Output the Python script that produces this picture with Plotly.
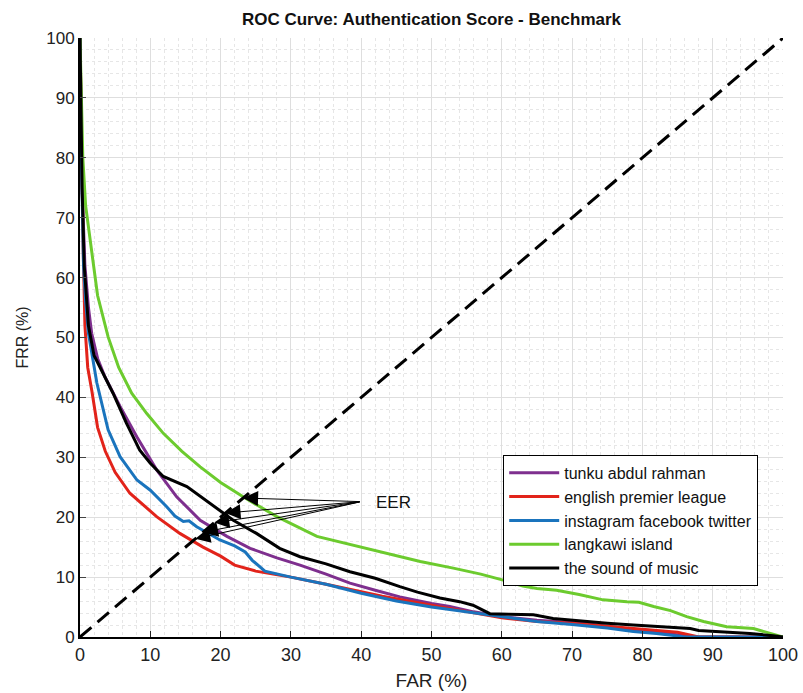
import plotly.graph_objects as go

# ---- data ----
series_names = ["tunku abdul rahman", "english premier league",
                "instagram facebook twitter", "langkawi island", "the sound of music"]
series_colors = ["#7E2F8E", "#E2231A", "#1A74BD", "#6CCB2E", "#000000"]

tunku_far = [0, 0.3, 0.7, 1.2, 1.66, 2.5, 3.56, 5.7, 8.1, 10.9, 13.75, 17.1, 20.9, 24.2, 28, 31.3, 35,
             38.4, 42, 45.5, 50, 52.6, 56, 60, 65, 71.6, 75, 78.7, 82, 85, 87.5, 100]
tunku_frr = [100, 75, 62, 55, 50.7, 46.5, 43.4, 38.5, 33.4, 27.9, 23.4, 19.5, 16.8, 14.8, 13.2, 12, 10.5,
             9, 7.8, 6.7, 5.6, 5.1, 4.2, 3.4, 2.8, 2.3, 1.8, 1.2, 0.8, 0.3, 0, 0]

epl_far = [0, 0.2, 0.45, 0.7, 1.1, 1.7, 2.5, 3.6, 5, 7.1, 9, 10.9, 14.2, 17.5, 20, 22, 25, 30, 35, 40,
           43, 50, 55, 60, 65, 70, 75, 80, 82, 85, 88, 100]
epl_frr = [100, 80, 65, 52, 45, 41, 35, 31, 27.5, 24, 22, 20.1, 17.3, 15, 13.5, 12, 11, 10, 8.8, 7.5,
           6.8, 5.3, 4.3, 3.2, 2.6, 2.3, 1.8, 1.3, 1.1, 0.8, 0, 0]

ins_far = [0, 0.2, 0.5, 0.8, 1.2, 2.4, 4, 5.7, 8.1, 10, 12.3, 13.5, 14.7, 15.5, 16.6, 18, 19.9, 22, 23.5,
           24.5, 26.3, 30, 35, 40, 45, 50, 55, 60, 65, 70, 75, 78.7, 82, 85.8, 100]
ins_frr = [100, 80, 62, 56, 50.7, 42.4, 34.6, 30.1, 26.2, 24.5, 21.8, 20.2, 19.3, 19.4, 18.4, 17.5, 16.2,
           15.2, 14.2, 12.8, 11, 10, 8.8, 7.3, 6.0, 5.0, 4.2, 3.3, 2.6, 2.1, 1.5, 0.9, 0.6, 0.05, 0]

lang_far = [0, 0.15, 0.4, 0.8, 1.66, 2.5, 4, 5.5, 7.35, 9.5, 11.85, 14.5, 17.1, 20, 23.2, 28, 33.7, 40.8,
            45, 48.4, 53.1, 57, 60.2, 63, 65, 67.8, 71, 74.4, 77.8, 79.5, 81.6, 84, 86.3, 88.7, 92,
            95.8, 98.2, 100]
lang_frr = [100, 90, 80, 72, 64.6, 57, 50.1, 45, 40.7, 37.3, 34, 31, 28.4, 25.8, 23.4, 20.1, 16.8, 14.8,
            13.6, 12.6, 11.5, 10.5, 9.5, 8.5, 8.1, 7.8, 7.1, 6.2, 5.9, 5.8, 5.1, 4.4, 3.4, 2.6, 1.7,
            1.4, 0.6, 0]

som_far = [0, 0.3, 0.6, 1.2, 2, 3.3, 4.7, 6.6, 8.5, 10, 11.85, 15.2, 18.5, 21.8, 25.1, 28.4, 31.3, 35,
           38.4, 42, 45.5, 48, 51.2, 54, 55.9, 58.3, 61, 64.5, 67.3, 71.6, 75, 78.7, 83, 86.8, 88, 90.6,
           95.3, 98.6, 100]
som_frr = [100, 75, 62, 52, 47, 44, 40.7, 35.7, 31.2, 29, 26.8, 25.1, 22.3, 19.5, 17.3, 14.8, 13.4, 12.2,
           10.9, 9.8, 8.4, 7.5, 6.5, 5.9, 5.3, 3.9, 3.8, 3.7, 3.1, 2.6, 2.3, 2.0, 1.7, 1.4, 1.1, 0.9,
           0.6, 0.2, 0]

series_far = [tunku_far, epl_far, ins_far, lang_far, som_far]
series_frr = [tunku_frr, epl_frr, ins_frr, lang_frr, som_frr]

diag = [0, 100]
eer_points = [23.2, 20.7, 19.1, 17.5, 16.4]
eer_tail = (40.0, 22.6)
eer_label = (44.6, 22.5)

axis_ticks = [0, 10, 20, 30, 40, 50, 60, 70, 80, 90, 100]

fig = go.Figure()
for name, col, xs, ys in zip(series_names, series_colors, series_far, series_frr):
    fig.add_trace(go.Scatter(x=xs, y=ys, mode="lines", name=name,
                             line=dict(color=col, width=3)))

fig.add_trace(go.Scatter(x=diag, y=diag, mode="lines", showlegend=False,
                         line=dict(color="black", width=3, dash="15px,8px")))

for p in eer_points:
    fig.add_annotation(x=p, y=p, ax=eer_tail[0], ay=eer_tail[1], axref="x", ayref="y",
                       xref="x", yref="y", text="", showarrow=True, arrowhead=2,
                       arrowsize=3, arrowwidth=1, arrowcolor="black", standoff=0,
                       startstandoff=0)
fig.add_annotation(x=eer_label[0], y=eer_label[1], xref="x", yref="y", text="EER",
                   showarrow=False, font=dict(family="Liberation Sans, Arial", size=17, color="#111"))

font = "Liberation Sans, Arial"

fig.update_layout(
    width=803, height=693,
    margin=dict(l=80, r=20, t=38, b=56, autoexpand=False),
    paper_bgcolor="white", plot_bgcolor="white",
    title=dict(text="<b>ROC Curve: Authentication Score - Benchmark</b>", x=0.5, xref="paper",
               xanchor="center", y=0.972, yref="container", yanchor="middle",
               font=dict(family=font, size=17, color="#111")),
    legend=dict(x=0.602, y=0.304, xanchor="left", yanchor="top", bgcolor="white",
                bordercolor="black", borderwidth=1,
                font=dict(family=font, size=16, color="#111"),
                itemwidth=50, tracegroupgap=0),
    showlegend=True,
)

fig.update_xaxes(range=[0, 100], tickvals=axis_ticks, showgrid=True, gridcolor="#dedede", gridwidth=1,
                 minor=dict(dtick=2, showgrid=True, gridcolor="#e6e6e6", griddash="dot", ticks=""),
                 zeroline=False, showline=True, linecolor="black", linewidth=2,
                 ticks="inside", ticklen=6, tickcolor="#222", tickwidth=1, automargin=False,
                 tickfont=dict(family=font, size=18, color="#222"),
                 title=dict(text="FAR (%)", font=dict(family=font, size=19, color="#222"), standoff=10))
fig.update_yaxes(range=[0, 100], tickvals=axis_ticks, showgrid=True, gridcolor="#dedede", gridwidth=1,
                 minor=dict(dtick=2, showgrid=True, gridcolor="#e6e6e6", griddash="dot", ticks=""),
                 zeroline=False, showline=True, linecolor="black", linewidth=2,
                 ticks="inside", ticklen=6, tickcolor="#444", tickwidth=1, automargin=False,
                 tickfont=dict(family=font, size=17, color="#222"),
                 title=dict(text="FRR (%)", font=dict(family=font, size=16, color="#222"),
                            standoff=14))

fig.write_html("out.html", config={"displayModeBar": False},
               post_script="document.body.style.margin='0';")
